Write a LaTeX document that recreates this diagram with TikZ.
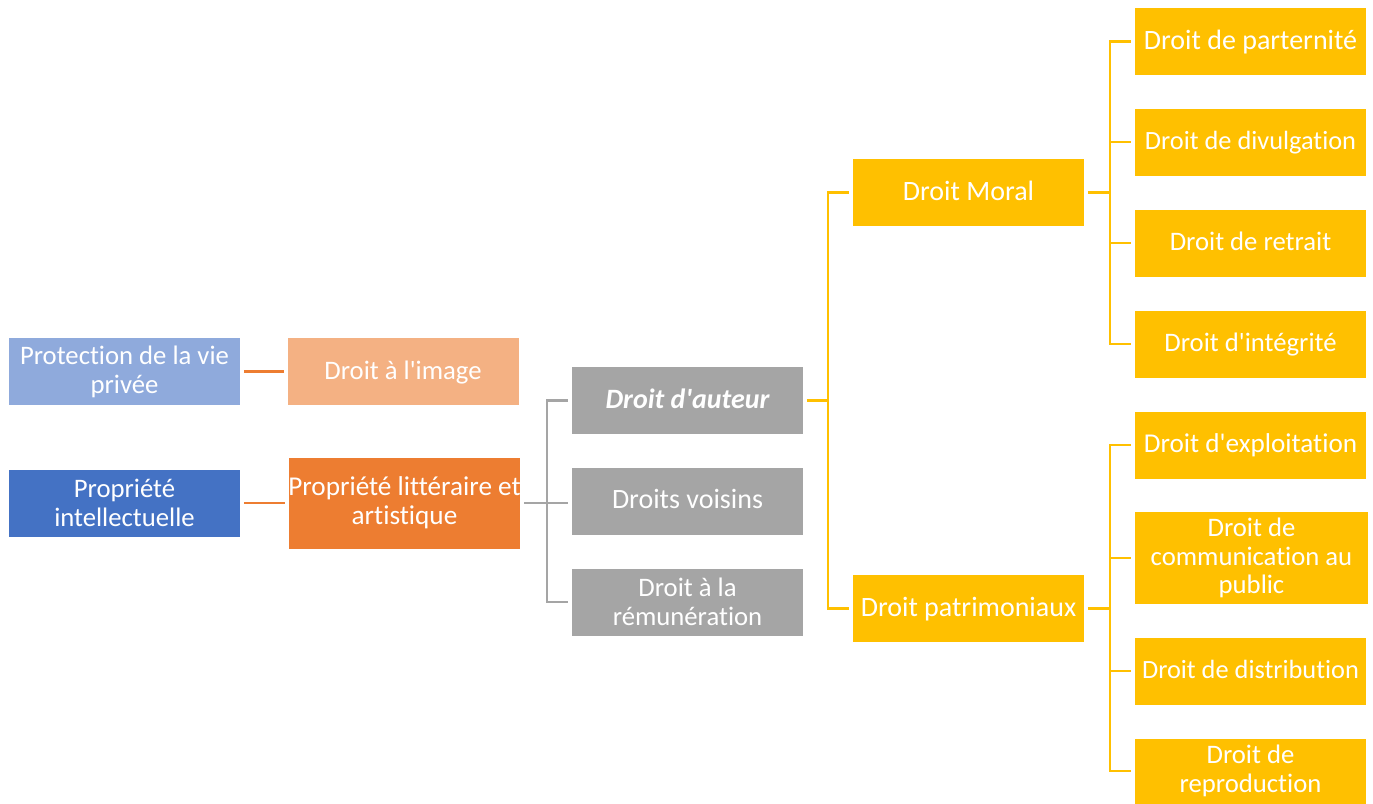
\documentclass[tikz,border=0pt]{standalone}
\usepackage{fontspec}
\setmainfont{Carlito}[Ligatures={NoCommon}]
\newcommand{\apos}{\textquotesingle}
\definecolor{cLightBlue}{HTML}{8FAADC}
\definecolor{cPeach}{HTML}{F4B183}
\definecolor{cBlue}{HTML}{4472C4}
\definecolor{cOrange}{HTML}{ED7D31}
\definecolor{cGray}{HTML}{A5A5A5}
\definecolor{cYellow}{HTML}{FFC000}
\tikzset{
  box/.style={rectangle, draw=white, line width=0.8pt, inner sep=0pt, text=white, align=center,
    font=\fontsize{28}{30}\selectfont, minimum width=232pt, minimum height=68pt},
  one/.style={text height=21pt, text depth=6pt},
  fsmall/.style={font=\fontsize{26.7}{28.8}\selectfont},
  fsmaller/.style={font=\fontsize{26.35}{28.5}\selectfont},
  fmid/.style={font=\fontsize{27.2}{29.2}\selectfont},
  olink/.style={draw=cOrange, line width=2.6pt},
  glink/.style={draw=cGray, line width=2.6pt},
  ylink/.style={draw=cYellow, line width=2.6pt},
}
\begin{document}
\begin{tikzpicture}[x=1pt,y=-1pt]
\useasboundingbox (0,0) rectangle (1373,803);
% left column
\node[box, fsmall, fill=cLightBlue] (pv) at (124.5,371.5) {Protection de la vie\\privée};
\node[box, fsmall, fill=cBlue] (pi) at (124.5,503) {Propriété\\intellectuelle};
% second column
\node[box, one, fsmall, fill=cPeach] (img) at (403,371.5) {Droit à l\apos image};
\node[box, fmid, fill=cOrange, minimum height=92pt] (pla) at (404.5,503) {Propriété littéraire et\\artistique};
% third column
\node[box, one, fill=cGray] (da) at (687.5,400.5) {\bfseries\itshape Droit d\apos auteur};
\node[box, one, fill=cGray] (dv) at (687.5,501) {Droits voisins};
\node[box, fsmall, fill=cGray] (dr) at (687.5,602) {Droit à la\\rémunération};
% fourth column
\node[box, one, fill=cYellow] (dm) at (968.5,192.5) {Droit Moral};
\node[box, one, fill=cYellow] (dp) at (968.5,608.5) {Droit patrimoniaux};
% right column
\node[box, one, fill=cYellow] (r1) at (1250.5,41.5) {Droit de parternité};
\node[box, one, fsmaller, fill=cYellow] (r2) at (1250.5,142) {Droit de divulgation};
\node[box, one, fsmall, fill=cYellow] (r3) at (1250.5,243) {Droit de retrait};
\node[box, one, fsmall, fill=cYellow] (r4) at (1250.5,344) {Droit d\apos intégrité};
\node[box, one, fmid, fill=cYellow] (r5) at (1250.5,445) {Droit d\apos exploitation};
\node[box, fsmall, fill=cYellow, minimum width=234pt, minimum height=93pt] (r6) at (1251.5,558) {Droit de\\communication au\\public};
\node[box, one, fsmaller, fill=cYellow] (r7) at (1250.5,671) {Droit de distribution};
\node[box, fsmall, fill=cYellow, minimum height=66pt] (r8) at (1250.5,771) {Droit de\\reproduction};
% connectors
\draw[olink, shorten <=3pt, shorten >=3pt] (pv.east) -- (img.west);
\draw[olink, shorten <=3pt, shorten >=3pt] (pi.east) -- (pla.west);
\coordinate (j1) at (547,503);
\draw[glink, shorten <=3pt] (pla.east) -- (j1);
\draw[glink, shorten >=3pt] (j1) |- (da.west);
\draw[glink, shorten >=3pt] (j1) -- (dv.west |- j1);
\draw[glink, shorten >=3pt] (j1) |- (dr.west);
\coordinate (j2) at (828,400.5);
\draw[ylink, shorten <=3pt] (da.east) -- (j2);
\draw[ylink, shorten >=3pt] (j2) |- (dm.west);
\draw[ylink, shorten >=3pt] (j2) |- (dp.west);
\coordinate (j3) at (1110,192.5);
\draw[ylink, shorten <=3pt] (dm.east) -- (j3);
\foreach \n in {r1,r2,r3,r4} \draw[ylink, shorten >=3pt] (j3) |- (\n.west);
\coordinate (j4) at (1110,608.5);
\draw[ylink, shorten <=3pt] (dp.east) -- (j4);
\foreach \n in {r5,r6,r7,r8} \draw[ylink, shorten >=3pt] (j4) |- (\n.west);
\end{tikzpicture}
\end{document}
